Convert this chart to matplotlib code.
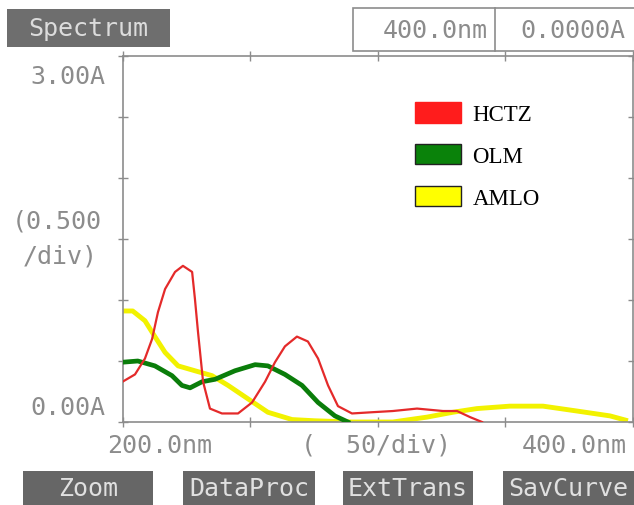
import numpy as np
import matplotlib
matplotlib.use("Agg")
import matplotlib.pyplot as plt
from matplotlib.patches import Patch, Rectangle

# Spectrum readings, wavelength (nm) vs absorbance (A)
hctz_nm = [200, 204.9, 208.8, 211.6, 213.9, 216.7, 220.6, 223.7, 227.3, 228.4, 229.6, 231.6, 234.3,
           239, 245.3, 250.8, 255.9, 259.8, 263.7, 268.4, 272.7, 276.7, 280.6, 284.5, 290, 297.8,
           306, 315.5, 325.7, 331.2, 336.3, 341]
hctz_abs = [0.33, 0.39, 0.52, 0.68, 0.90, 1.09, 1.23, 1.28, 1.23, 1.01, 0.74, 0.33, 0.11,
            0.07, 0.07, 0.16, 0.33, 0.49, 0.62, 0.70, 0.66, 0.52, 0.30, 0.13, 0.07, 0.08,
            0.09, 0.11, 0.09, 0.09, 0.04, 0.0]

olm_nm = [200, 206, 212.7, 219.4, 223.3, 226.5, 231.2, 236.3, 244.1, 252, 257, 263.7, 270.4,
          276.7, 283.3, 288.4]
olm_abs = [0.49, 0.50, 0.46, 0.38, 0.30, 0.28, 0.33, 0.35, 0.42, 0.47, 0.46, 0.39, 0.30,
           0.16, 0.05, 0.0]

amlo_nm = [200, 204, 208.8, 212.7, 216.7, 221.8, 228.4, 235.1, 241.4, 249.2, 257, 266.5, 275.5,
           290, 306, 319.4, 329.6, 339, 351.9, 364.9, 378.2, 391.2, 398.2]
amlo_abs = [0.91, 0.91, 0.83, 0.70, 0.57, 0.46, 0.42, 0.38, 0.30, 0.19, 0.08, 0.02, 0.01,
            0.0, 0.0, 0.04, 0.08, 0.11, 0.13, 0.13, 0.09, 0.05, 0.01]

labels = ["HCTZ", "OLM", "AMLO"]
buttons = ["Zoom", "DataProc", "ExtTrans", "SavCurve"]

W, H = 634, 506
def fx(x):
    return x / W
def fy(y):
    return 1 - y / H

grey = "#8c8c8c"
mono = "DejaVu Sans Mono"

fig = plt.figure(figsize=(W / 100, H / 100), dpi=100)
ax = fig.add_axes([fx(122.5), fy(423), (632.5 - 122.5) / W, (423 - 57) / H])

ax.plot(amlo_nm, amlo_abs, color="#f2f200", lw=3.5, zorder=2, solid_capstyle="butt")
ax.plot(olm_nm, olm_abs, color="#0a7d0a", lw=3.4, zorder=3)
ax.plot(hctz_nm, hctz_abs, color="#e42a2a", lw=1.6, zorder=4)

ax.set_xlim(200, 400)
ax.set_ylim(0, 3.0)
ax.set_xticks(np.arange(200, 401, 50))
ax.set_yticks(np.arange(0, 3.01, 0.5))
ax.tick_params(direction="inout", length=7, width=1, color=grey,
               top=True, right=True, labelbottom=False, labelleft=False)
for s in ax.spines.values():
    s.set_color(grey)
    s.set_linewidth(1.2)

# legend
handles = [Patch(facecolor="#ff1c1c", edgecolor="#ff1c1c"),
           Patch(facecolor="#0a820a", edgecolor="#222222"),
           Patch(facecolor="#ffff00", edgecolor="#222222")]
fig.legend(handles, labels, loc="upper left", bbox_to_anchor=(fx(415), fy(103)),
           frameon=False, borderpad=0, borderaxespad=0, handlelength=2.0, handleheight=1.0,
           handletextpad=0.5, labelspacing=0.82, prop={"family": "Liberation Serif", "size": 16.5})

# instrument screen texts
fig.text(fx(105), fy(77), "3.00A", family=mono, size=18, color=grey, ha="right", va="center")
fig.text(fx(12), fy(222), "(0.500", family=mono, size=18, color=grey, ha="left", va="center")
fig.text(fx(23), fy(257), "/div)", family=mono, size=18, color=grey, ha="left", va="center")
fig.text(fx(105), fy(408), "0.00A", family=mono, size=18, color=grey, ha="right", va="center")
fig.text(fx(107), fy(446), "200.0nm", family=mono, size=18, color=grey, ha="left", va="center")
fig.text(fx(301), fy(446), "(  50/div)", family=mono, size=18, color=grey, ha="left", va="center")
fig.text(fx(522), fy(446), "400.0nm", family=mono, size=18, color=grey, ha="left", va="center")

# header
fig.patches.append(Rectangle((fx(7), fy(48)), (170 - 7) / W, 38 / H, transform=fig.transFigure,
                             facecolor="#6e6e6e", edgecolor="none"))
fig.text(fx(88), fy(29), "Spectrum", family=mono, size=18, color="#dcdcdc", ha="center", va="center")
fig.patches.append(Rectangle((fx(353), fy(52)), (640 - 353) / W, 43 / H, transform=fig.transFigure,
                             facecolor="white", edgecolor=grey, lw=1.2))
fig.lines.append(plt.Line2D([fx(495), fx(495)], [fy(52), fy(9)], transform=fig.transFigure,
                            color=grey, lw=1.2))
fig.text(fx(488), fy(31), "400.0nm", family=mono, size=18, color=grey, ha="right", va="center")
fig.text(fx(520), fy(31), "0.0000A", family=mono, size=18, color=grey, ha="left", va="center")

# soft keys
keys_x = [(23, 153), (183, 315), (343, 473), (503, 640)]
for (x0, x1), name in zip(keys_x, buttons):
    fig.patches.append(Rectangle((fx(x0), fy(506)), (x1 - x0) / W, 34 / H, transform=fig.transFigure,
                                 facecolor="#666666", edgecolor="none"))
    fig.text(fx((x0 + min(x1, 634)) / 2), fy(489), name, family=mono, size=18, color="#e0e0e0",
             ha="center", va="center")

fig.savefig("out.png", dpi=100)
